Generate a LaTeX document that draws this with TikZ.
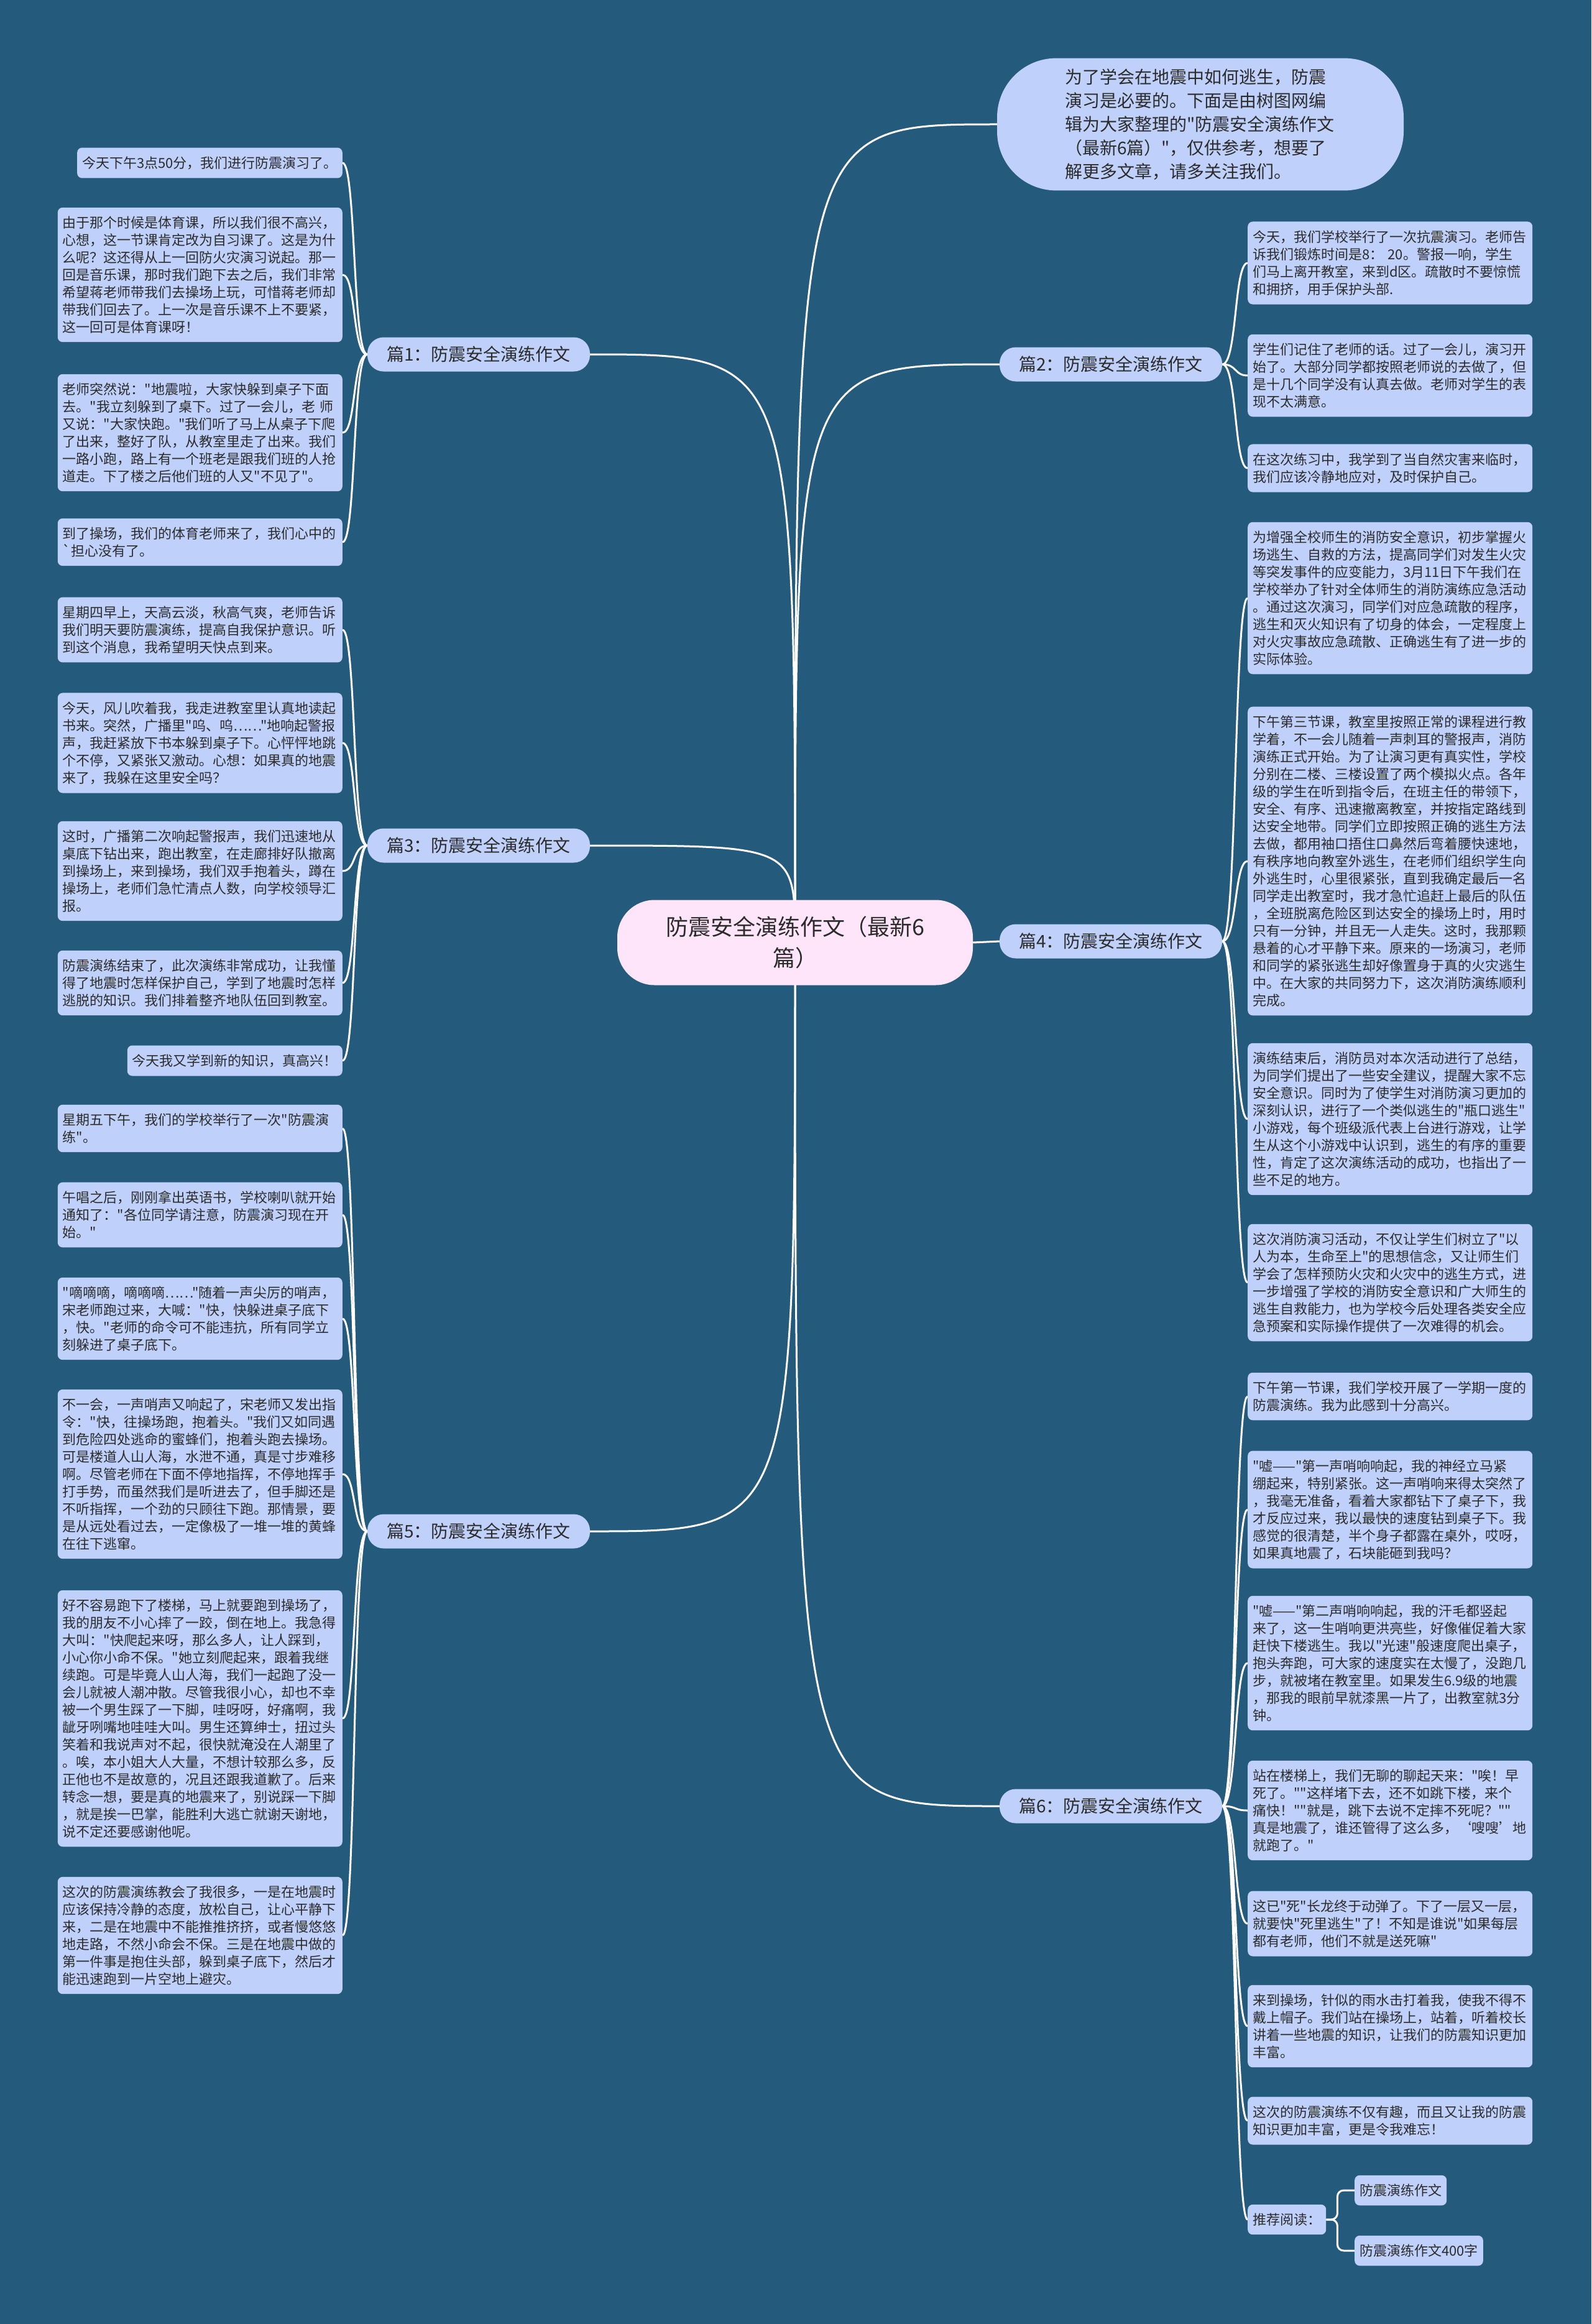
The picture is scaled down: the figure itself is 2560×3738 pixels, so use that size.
\documentclass[tikz,border=0pt]{standalone}
\usepackage{fontspec}
\newfontfamily\notocjk{Noto Sans CJK SC}

\definecolor{paper}{HTML}{245A7C}
\definecolor{cardblue}{HTML}{BFD1FA}
\definecolor{rootpink}{HTML}{FEE5FA}
\definecolor{ink}{HTML}{2B2B2B}

\pgfdeclarelayer{backdrop}
\pgfdeclarelayer{links}
\pgfsetlayers{backdrop,links,main}

\tikzset{
    card/.style={fill=cardblue, rounded corners=8pt, inner xsep=8pt, inner ysep=14pt,
        text=ink, font=\notocjk\fontsize{22}{28}\selectfont, align=left},
    leaf/.style={card, text width=442pt},
    branch/.style={fill=cardblue, rounded corners=26pt, minimum width=358pt,
        minimum height=55pt, text=ink, font=\notocjk\fontsize{28}{32}\selectfont},
    link/.style={draw=white, line width=3pt},
}

\begin{document}
\begin{tikzpicture}[x=1pt, y=-1pt]
        \begin{pgfonlayer}{backdrop}
            \fill [paper] (0,0) rectangle (2560,3738);
        \end{pgfonlayer}
        \useasboundingbox (0,0) rectangle (2560,3738);

        \node [fill=rootpink, rounded corners=60pt, minimum width=572pt, minimum height=137pt,
            text width=440pt, align=center, text=ink, font=\notocjk\fontsize{36}{50}\selectfont]
            (ctr) at (1279,1516) {防震安全演练作文（最新6\\篇）};
        \node [fill=cardblue, rounded corners=95pt, text width=436pt, inner xsep=109pt,
            inner ysep=17pt, align=left, text=ink, font=\notocjk\fontsize{28}{38}\selectfont]
            (intro) at (1931,200) {为了学会在地震中如何逃生，防震\\演习是必要的。下面是由树图网编\\辑为大家整理的"防震安全演练作文\\（最新6篇）"，仅供参考，想要了\\解更多文章，请多关注我们。};

        \node [branch] (p1) at (770,570) {篇1：防震安全演练作文};
        \node [branch] (p3) at (770,1360) {篇3：防震安全演练作文};
        \node [branch] (p5) at (770,2463) {篇5：防震安全演练作文};
        \node [branch] (p2) at (1787,586) {篇2：防震安全演练作文};
        \node [branch] (p4) at (1787,1514) {篇4：防震安全演练作文};
        \node [branch] (p6) at (1787,2905) {篇6：防震安全演练作文};

        \node [card, anchor=east] (a1) at (551,262) {今天下午3点50分，我们进行防震演习了。};
        \node [leaf, anchor=east] (a2) at (551,442) {由于那个时候是体育课，所以我们很不高兴，\\心想，这一节课肯定改为自习课了。这是为什\\么呢？这还得从上一回防火灾演习说起。那一\\回是音乐课，那时我们跑下去之后，我们非常\\希望蒋老师带我们去操场上玩，可惜蒋老师却\\带我们回去了。上一次是音乐课不上不要紧，\\这一回可是体育课呀！};
        \node [leaf, anchor=east] (a3) at (551,696) {老师突然说："地震啦，大家快躲到桌子下面\\去。"我立刻躲到了桌下。过了一会儿，老 师\\又说："大家快跑。"我们听了马上从桌子下爬\\了出来，整好了队，从教室里走了出来。我们\\一路小跑，路上有一个班老是跟我们班的人抢\\道走。下了楼之后他们班的人又"不见了"。};
        \node [leaf, anchor=east] (a4) at (551,872) {到了操场，我们的体育老师来了，我们心中的\\`担心没有了。};

        \node [leaf, anchor=east] (c1) at (551,1013) {星期四早上，天高云淡，秋高气爽，老师告诉\\我们明天要防震演练，提高自我保护意识。听\\到这个消息，我希望明天快点到来。};
        \node [leaf, anchor=east] (c2) at (551,1195) {今天，风儿吹着我，我走进教室里认真地读起\\书来。突然，广播里"呜、呜……"地响起警报\\声，我赶紧放下书本躲到桌子下。心怦怦地跳\\个不停，又紧张又激动。心想：如果真的地震\\来了，我躲在这里安全吗？};
        \node [leaf, anchor=east] (c3) at (551,1401) {这时，广播第二次响起警报声，我们迅速地从\\桌底下钻出来，跑出教室，在走廊排好队撤离\\到操场上，来到操场，我们双手抱着头，蹲在\\操场上，老师们急忙清点人数，向学校领导汇\\报。};
        \node [leaf, anchor=east] (c4) at (551,1581) {防震演练结束了，此次演练非常成功，让我懂\\得了地震时怎样保护自己，学到了地震时怎样\\逃脱的知识。我们排着整齐地队伍回到教室。};
        \node [card, anchor=east] (c5) at (551,1706) {今天我又学到新的知识，真高兴！};

        \node [leaf, anchor=east] (e1) at (551,1815) {星期五下午，我们的学校举行了一次"防震演\\练"。};
        \node [leaf, anchor=east] (e2) at (551,1954) {午唱之后，刚刚拿出英语书，学校喇叭就开始\\通知了："各位同学请注意，防震演习现在开\\始。"};
        \node [leaf, anchor=east] (e3) at (551,2121) {"嘀嘀嘀，嘀嘀嘀……"随着一声尖厉的哨声，\\宋老师跑过来，大喊："快，快躲进桌子底下\\，快。"老师的命令可不能违抗，所有同学立\\刻躲进了桌子底下。};
        \node [leaf, anchor=east] (e4) at (551,2371) {不一会，一声哨声又响起了，宋老师又发出指\\令："快，往操场跑，抱着头。"我们又如同遇\\到危险四处逃命的蜜蜂们，抱着头跑去操场。\\可是楼道人山人海，水泄不通，真是寸步难移\\啊。尽管老师在下面不停地指挥，不停地挥手\\打手势，而虽然我们是听进去了，但手脚还是\\不听指挥，一个劲的只顾往下跑。那情景，要\\是从远处看过去，一定像极了一堆一堆的黄蜂\\在往下逃窜。};
        \node [leaf, anchor=east] (e5) at (551,2764) {好不容易跑下了楼梯，马上就要跑到操场了，\\我的朋友不小心摔了一跤，倒在地上。我急得\\大叫："快爬起来呀，那么多人，让人踩到，\\小心你小命不保。"她立刻爬起来，跟着我继\\续跑。可是毕竟人山人海，我们一起跑了没一\\会儿就被人潮冲散。尽管我很小心，却也不幸\\被一个男生踩了一下脚，哇呀呀，好痛啊，我\\龇牙咧嘴地哇哇大叫。男生还算绅士，扭过头\\笑着和我说声对不起，很快就淹没在人潮里了\\。唉，本小姐大人大量，不想计较那么多，反\\正他也不是故意的，况且还跟我道歉了。后来\\转念一想，要是真的地震来了，别说踩一下脚\\，就是挨一巴掌，能胜利大逃亡就谢天谢地，\\说不定还要感谢他呢。};
        \node [leaf, anchor=east] (e6) at (551,3113) {这次的防震演练教会了我很多，一是在地震时\\应该保持冷静的态度，放松自己，让心平静下\\来，二是在地震中不能推推挤挤，或者慢悠悠\\地走路，不然小命会不保。三是在地震中做的\\第一件事是抱住头部，躲到桌子底下，然后才\\能迅速跑到一片空地上避灾。};

        \node [leaf, anchor=west] (b1) at (2007,423) {今天，我们学校举行了一次抗震演习。老师告\\诉我们锻炼时间是8： 20。警报一响，学生\\们马上离开教室，来到d区。疏散时不要惊慌\\和拥挤，用手保护头部.};
        \node [leaf, anchor=west] (b2) at (2007,604) {学生们记住了老师的话。过了一会儿，演习开\\始了。大部分同学都按照老师说的去做了，但\\是十几个同学没有认真去做。老师对学生的表\\现不太满意。};
        \node [leaf, anchor=west] (b3) at (2007,753) {在这次练习中，我学到了当自然灾害来临时，\\我们应该冷静地应对，及时保护自己。};

        \node [leaf, anchor=west] (d1) at (2007,962) {为增强全校师生的消防安全意识，初步掌握火\\场逃生、自救的方法，提高同学们对发生火灾\\等突发事件的应变能力，3月11日下午我们在\\学校举办了针对全体师生的消防演练应急活动\\。通过这次演习，同学们对应急疏散的程序，\\逃生和灭火知识有了切身的体会，一定程度上\\对火灾事故应急疏散、正确逃生有了进一步的\\实际体验。};
        \node [leaf, anchor=west] (d2) at (2007,1385) {下午第三节课，教室里按照正常的课程进行教\\学着，不一会儿随着一声刺耳的警报声，消防\\演练正式开始。为了让演习更有真实性，学校\\分别在二楼、三楼设置了两个模拟火点。各年\\级的学生在听到指令后，在班主任的带领下，\\安全、有序、迅速撤离教室，并按指定路线到\\达安全地带。同学们立即按照正确的逃生方法\\去做，都用袖口捂住口鼻然后弯着腰快速地，\\有秩序地向教室外逃生，在老师们组织学生向\\外逃生时，心里很紧张，直到我确定最后一名\\同学走出教室时，我才急忙追赶上最后的队伍\\，全班脱离危险区到达安全的操场上时，用时\\只有一分钟，并且无一人走失。这时，我那颗\\悬着的心才平静下来。原来的一场演习，老师\\和同学的紧张逃生却好像置身于真的火灾逃生\\中。在大家的共同努力下，这次消防演练顺利\\完成。};
        \node [leaf, anchor=west] (d3) at (2007,1800) {演练结束后，消防员对本次活动进行了总结，\\为同学们提出了一些安全建议，提醒大家不忘\\安全意识。同时为了使学生对消防演习更加的\\深刻认识，进行了一个类似逃生的"瓶口逃生"\\小游戏，每个班级派代表上台进行游戏，让学\\生从这个小游戏中认识到，逃生的有序的重要\\性，肯定了这次演练活动的成功，也指出了一\\些不足的地方。};
        \node [leaf, anchor=west] (d4) at (2007,2063) {这次消防演习活动，不仅让学生们树立了"以\\人为本，生命至上"的思想信念，又让师生们\\学会了怎样预防火灾和火灾中的逃生方式，进\\一步增强了学校的消防安全意识和广大师生的\\逃生自救能力，也为学校今后处理各类安全应\\急预案和实际操作提供了一次难得的机会。};

        \node [leaf, anchor=west] (f1) at (2007,2246) {下午第一节课，我们学校开展了一学期一度的\\防震演练。我为此感到十分高兴。};
        \node [leaf, anchor=west] (f2) at (2007,2428) {"嘘——"第一声哨响响起，我的神经立马紧\\绷起来，特别紧张。这一声哨响来得太突然了\\，我毫无准备，看着大家都钻下了桌子下，我\\才反应过来，我以最快的速度钻到桌子下。我\\感觉的很清楚，半个身子都露在桌外，哎呀，\\如果真地震了，石块能砸到我吗？};
        \node [leaf, anchor=west] (f3) at (2007,2675) {"嘘——"第二声哨响响起，我的汗毛都竖起\\来了，这一生哨响更洪亮些，好像催促着大家\\赶快下楼逃生。我以"光速"般速度爬出桌子，\\抱头奔跑，可大家的速度实在太慢了，没跑几\\步，就被堵在教室里。如果发生6.9级的地震\\，那我的眼前早就漆黑一片了，出教室就3分\\钟。};
        \node [leaf, anchor=west] (f4) at (2007,2912) {站在楼梯上，我们无聊的聊起天来："唉！早\\死了。""这样堵下去，还不如跳下楼，来个\\痛快！""就是，跳下去说不定摔不死呢？""\\真是地震了，谁还管得了这么多，‘嗖嗖’地\\就跑了。"};
        \node [leaf, anchor=west] (f5) at (2007,3094) {这已"死"长龙终于动弹了。下了一层又一层，\\就要快"死里逃生"了！不知是谁说"如果每层\\都有老师，他们不就是送死嘛"};
        \node [leaf, anchor=west] (f6) at (2007,3259) {来到操场，针似的雨水击打着我，使我不得不\\戴上帽子。我们站在操场上，站着，听着校长\\讲着一些地震的知识，让我们的防震知识更加\\丰富。};
        \node [leaf, anchor=west] (f7) at (2007,3411) {这次的防震演练不仅有趣，而且又让我的防震\\知识更加丰富，更是令我难忘！};
        \node [card, anchor=west] (frec) at (2007,3570) {推荐阅读：};
        \node [card, anchor=west] (g1) at (2179,3523) {防震演练作文};
        \node [card, anchor=west] (g2) at (2179,3620) {防震演练作文400字};

        \begin{pgfonlayer}{links}
            \draw [link] (ctr.center) .. controls (ctr.center |- intro.west) .. (intro.west);
            \draw [link] (ctr.center) .. controls (ctr.center |- p1.east) .. (p1.east);
            \draw [link] (ctr.center) .. controls (ctr.center |- p3.east) .. (p3.east);
            \draw [link] (ctr.center) .. controls (ctr.center |- p5.east) .. (p5.east);
            \draw [link] (ctr.center) .. controls (ctr.center |- p2.west) .. (p2.west);
            \draw [link] (ctr.east) -- (p4.west);
            \draw [link] (ctr.center) .. controls (ctr.center |- p6.west) .. (p6.west);
            \foreach \n in {a1,a2,a3,a4}
                \draw [link] (p1.west) .. controls +(-24,0) and +(22,0) .. (\n.east);
            \foreach \n in {c1,c2,c3,c4,c5}
                \draw [link] (p3.west) .. controls +(-24,0) and +(22,0) .. (\n.east);
            \foreach \n in {e1,e2,e3,e4,e5,e6}
                \draw [link] (p5.west) .. controls +(-24,0) and +(22,0) .. (\n.east);
            \foreach \n in {b1,b2,b3}
                \draw [link] (p2.east) .. controls +(24,0) and +(-22,0) .. (\n.west);
            \foreach \n in {d1,d2,d3,d4}
                \draw [link] (p4.east) .. controls +(24,0) and +(-22,0) .. (\n.west);
            \foreach \n in {f1,f2,f3,f4,f5,f6,f7,frec}
                \draw [link] (p6.east) .. controls +(24,0) and +(-22,0) .. (\n.west);
            \draw [link, rounded corners=10pt] (frec.east) -- ++(18,0) |- (g1.west);
            \draw [link, rounded corners=10pt] (frec.east) -- ++(18,0) |- (g2.west);
        \end{pgfonlayer}
\end{tikzpicture}
\end{document}
